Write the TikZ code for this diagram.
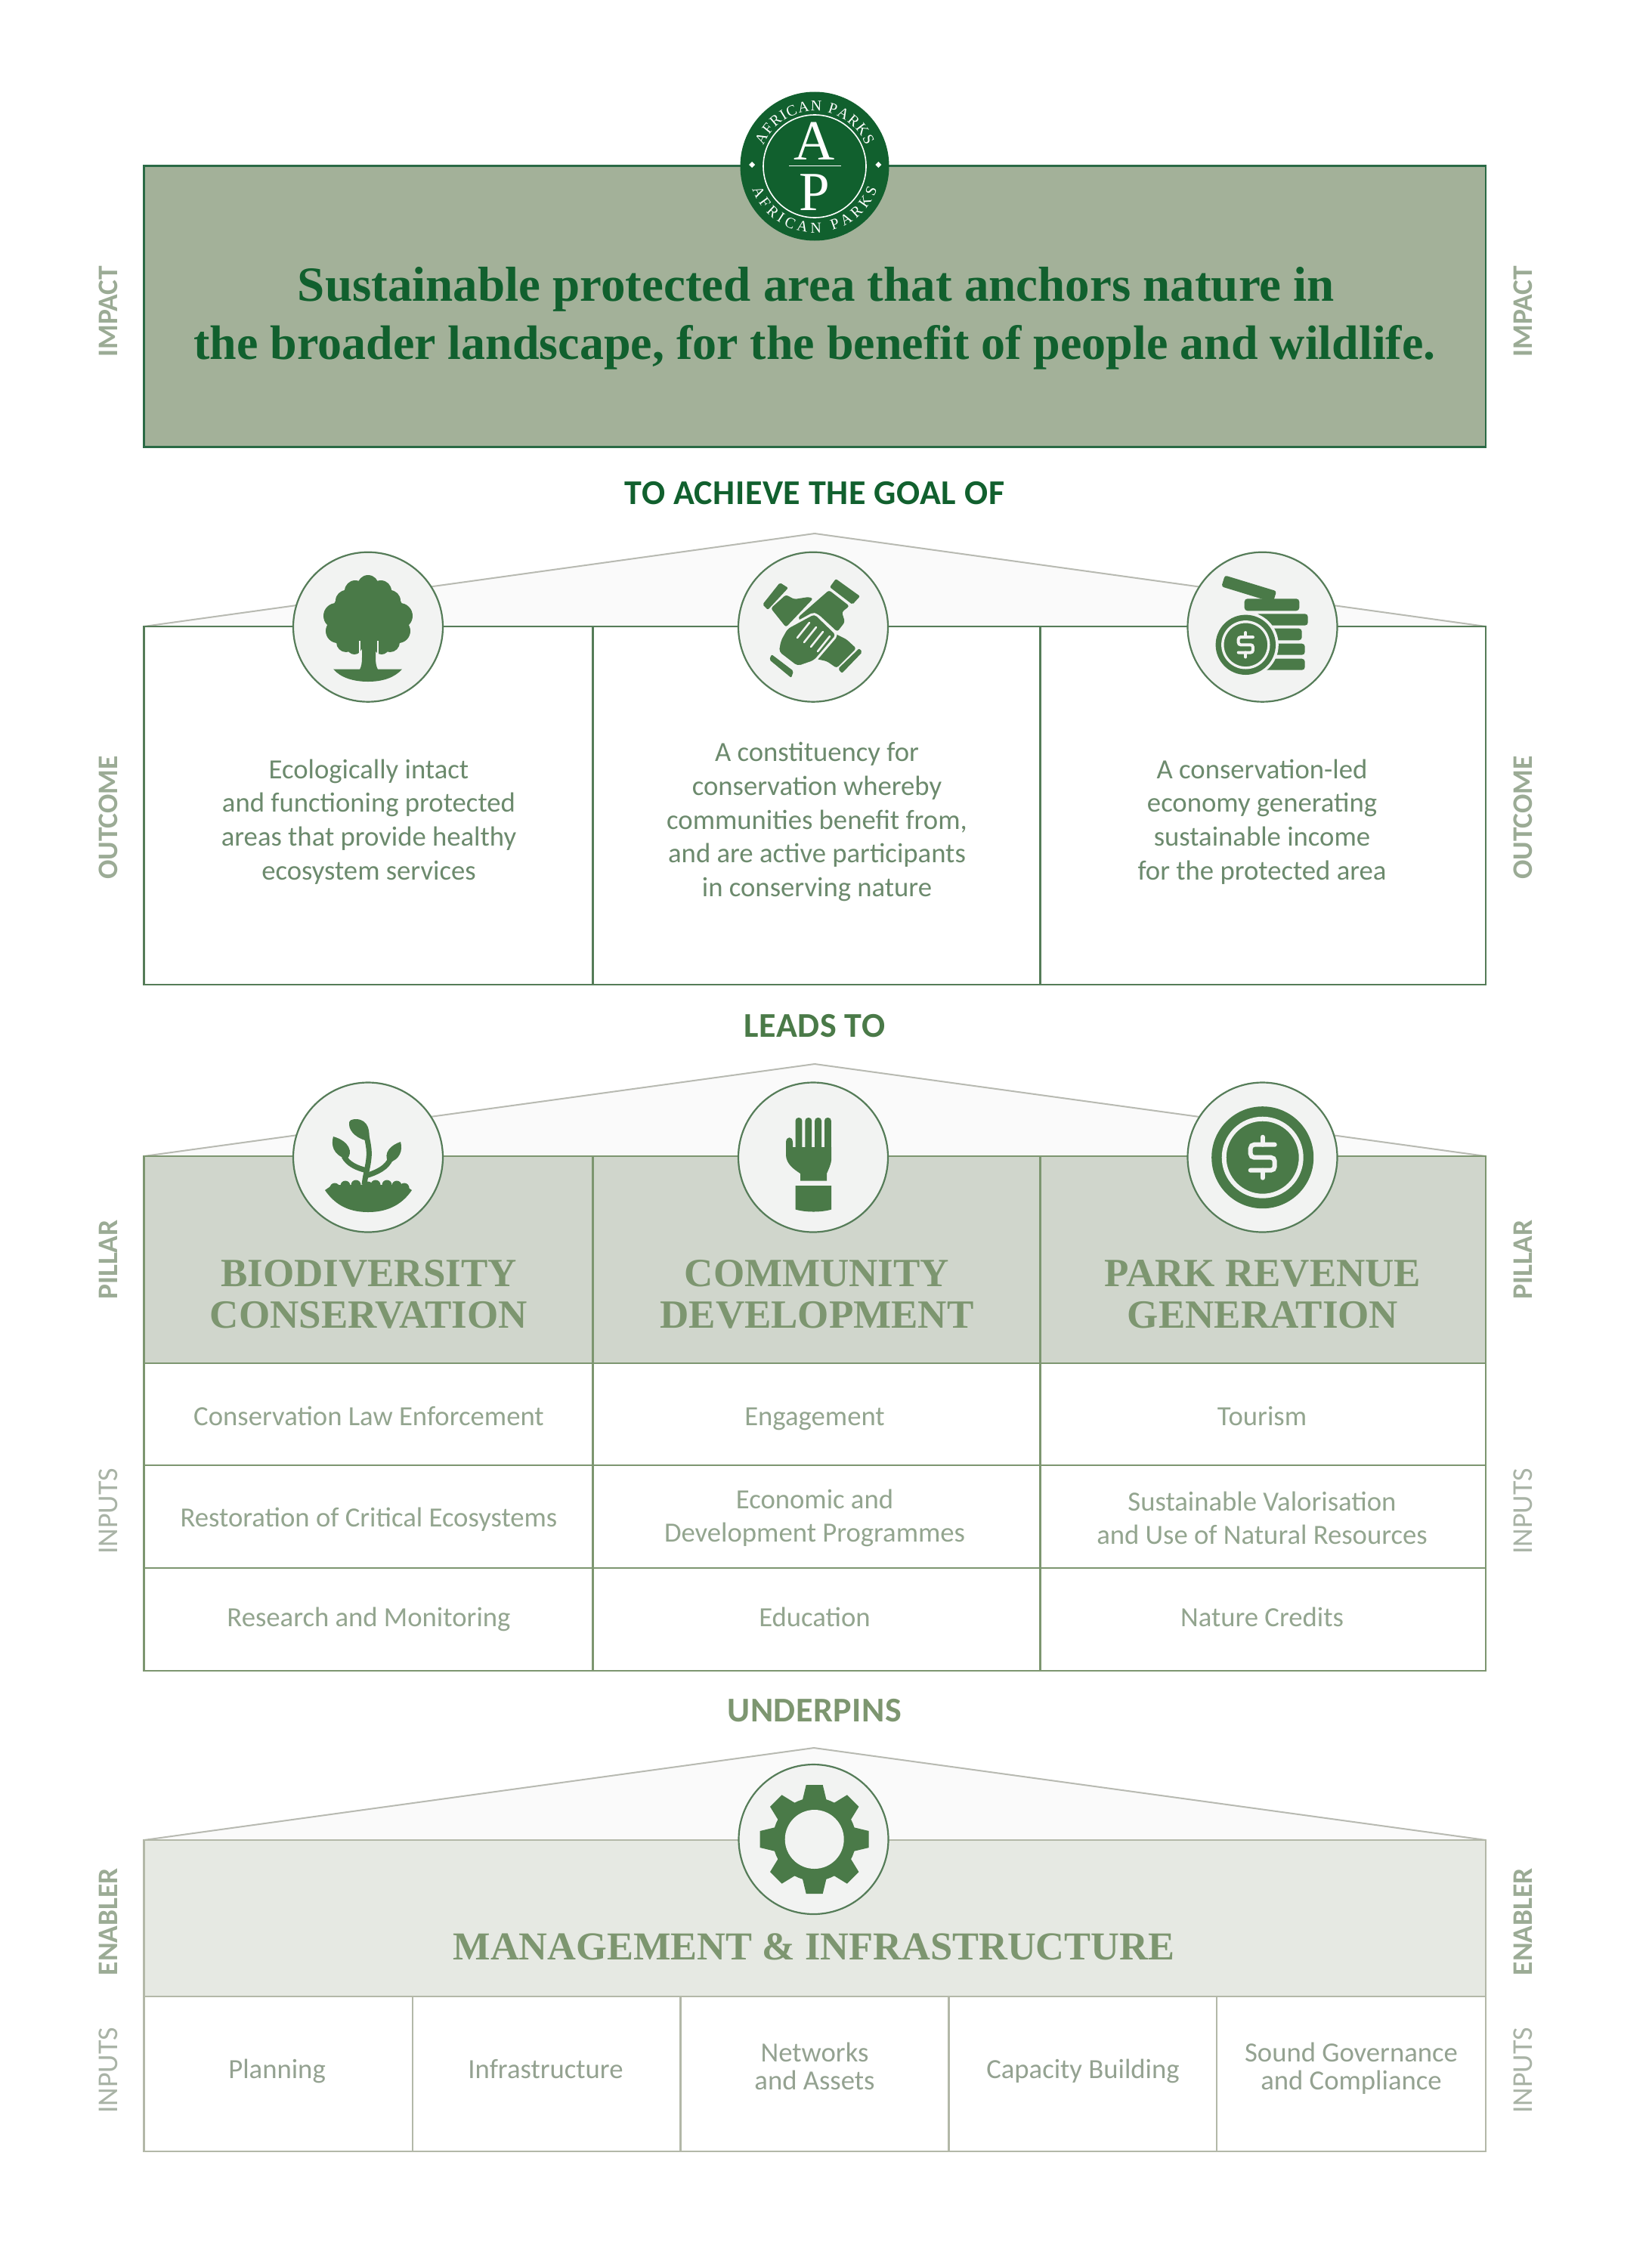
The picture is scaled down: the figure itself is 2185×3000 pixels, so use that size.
\documentclass[tikz,border=0pt]{standalone}
\usepackage{fontspec}
\usetikzlibrary{decorations.text}
\setmainfont{Carlito}
\newfontfamily\headserif{Liberation Serif Bold}
\newfontfamily\logoserif{Liberation Serif}
\newfontfamily\linkfont{Carlito Bold}[LetterSpace=1.2]
\definecolor{logogreen}{HTML}{11602E}
\definecolor{impactfill}{HTML}{A3B199}
\definecolor{impactline}{HTML}{2A6A45}
\definecolor{iconGreen}{HTML}{4A7A48}
\definecolor{outline}{HTML}{557C58}
\definecolor{outtext}{HTML}{6C8A6D}
\definecolor{sage}{HTML}{7D9670}
\definecolor{pillarfill}{HTML}{D0D6CC}
\definecolor{pillarline}{HTML}{7D9670}
\definecolor{inputtext}{HTML}{93A58F}
\definecolor{enablefill}{HTML}{E6E9E3}
\definecolor{enableline}{HTML}{B3B8A8}
\definecolor{enabletext}{HTML}{94A291}
\definecolor{rooffill}{HTML}{FAFAFA}
\definecolor{roofline}{HTML}{B8BAB2}
\definecolor{discfill}{HTML}{F2F3F2}
\definecolor{sidebold}{HTML}{9BAB95}
\definecolor{sidelight}{HTML}{A9B3A6}
\tikzset{
  roof/.style={fill=rooffill,draw=roofline,line width=2pt},
  disc/.style={fill=discfill,draw=outline,line width=2.2pt},
  outcell/.style={draw=outline,line width=2.6pt},
  pillarcell/.style={draw=pillarline,line width=2.6pt},
  enablecell/.style={draw=enableline,line width=2.6pt},
  sidehead/.style={rotate=90,inner sep=0pt,font=\fontsize{37.5}{40}\selectfont\bfseries,text=sidebold},
  sidesub/.style={rotate=90,inner sep=0pt,font=\fontsize{38}{40}\selectfont,text=sidelight},
  linkhead/.style={inner sep=0pt,anchor=base,font=\linkfont\fontsize{46}{48}\selectfont},
  bodytext/.style={inner sep=0pt,align=center,text=outtext,font=\fontsize{36.7}{44.7}\selectfont},
  celltext/.style={inner sep=0pt,align=center,text=inputtext,font=\fontsize{36.7}{44}\selectfont},
  basetext/.style={inner sep=0pt,anchor=base,text=enabletext,font=\fontsize{36.7}{37.5}\selectfont},
  pillartitle/.style={inner sep=0pt,align=center,text=sage,font=\headserif\fontsize{53}{55}\selectfont},
  logotext/.style={decorate,decoration={text along path,text align={fit to path},
    text={|\logoserif\fontsize{20}{20}\selectfont\color{white}|AFRICAN PARKS}}},
}
\newcommand{\dollarmark}[5]{%
  \begin{scope}[shift={(#1,#2)},scale=#3]
    \draw[draw=discfill,line width=#4pt,rounded corners=#5pt,line cap=round]
      (16,-17)--(-16,-17)--(-16,0)--(16,0)--(16,17)--(-16,17);
    \draw[draw=discfill,line width=#4pt,line cap=round] (0,-27)--(0,-17) (0,17)--(0,27);
  \end{scope}}
\begin{document}
\begin{tikzpicture}[x=1pt,y=-1pt]
\useasboundingbox (0,0) rectangle (2185,3000);
\fill[white] (0,0) rectangle (2185,3000);

% ---------- impact ----------
\draw[fill=impactfill,draw=impactline,line width=2.6pt] (190.5,219.5) rectangle (1966,591.5);
\node[inner sep=0pt,anchor=base,text=logogreen,font=\headserif\fontsize{65}{66}\selectfont] (title1) at (1080,398) {Sustainable protected area that anchors nature in};
\node[inner sep=0pt,anchor=base,text=logogreen,font=\headserif\fontsize{64}{66}\selectfont] (title2) at (1078,475) {the broader landscape, for the benefit of people and wildlife.};

% logo
\fill[logogreen] (1078,220) circle (98.5);
\draw[white,line width=1.6pt] (1078,220) circle (68);
\draw[white,line width=1.6pt] (1044,219.3) -- (1112.7,219.3);
\node[inner sep=0pt,anchor=base,text=white,font=\logoserif\fontsize{75}{75}\selectfont] (logoA) at (1078,211.5) {A};
\node[inner sep=0pt,anchor=base,text=white,font=\logoserif\fontsize{73}{73}\selectfont] (logoP) at (1078,278) {P};
\path[logotext] (1010.3,192.7) arc[start angle=-158,end angle=-22,radius=73];
\path[logotext] (995.3,250.1) arc[start angle=160,end angle=20,radius=88];
\fill[white] (995,214) -- (999,218) -- (995,222) -- (991,218) -- cycle;
\fill[white] (1162.3,214) -- (1166.3,218) -- (1162.3,222) -- (1158.3,218) -- cycle;

\node[linkhead,text=logogreen] (goal) at (1078,667) {TO ACHIEVE THE GOAL OF};

% ---------- outcome ----------
\draw[roof] (190.5,829) -- (1078,706) -- (1966,829) -- cycle;
\draw[outcell] (190.5,829) rectangle (1966,1303);
\draw[outcell] (784.5,829) -- (784.5,1303) (1376.5,829) -- (1376.5,1303);
\draw[disc] (487,829.7) circle (99);
\draw[disc] (1076,829.7) circle (99);
\draw[disc] (1670.5,829.7) circle (99);

% tree
\fill[iconGreen] (487,815) ellipse (48 and 45);
\foreach \cx/\cy/\r in {487/775/14,470/782/14,504/782/14,458/795/14,516/795/14,445/815/17,529/815/17,447/835/16,527/835/16,458/850/13,516/850/13,469/856/10,505/856/10}
  \fill[iconGreen] (\cx,\cy) circle (\r);
\draw[draw=discfill,line width=2.2pt] (476,848) -- (476,866) (500,848) -- (500,866);
\fill[discfill] (476.5,866) rectangle (499.5,880);
\fill[iconGreen] (479,845) -- (497,845) -- (497,870) .. controls (497,878) and (498,882) .. (500,886) -- (476,886) .. controls (478,882) and (479,878) .. (479,870) -- cycle;
\fill[iconGreen] (441,885.5) -- (532,885.5) .. controls (522,897) and (506,902) .. (487,902) .. controls (468,902) and (451,897) .. (441,885.5) -- cycle;

% hands: cuffs
\fill[iconGreen,rounded corners=2pt] (1032,771) -- (1043,778) -- (1016,807) -- (1009,800) -- cycle;
\fill[iconGreen,rounded corners=2pt] (1106,766) -- (1138,789) -- (1128,800) -- (1098,777) -- cycle;
\fill[iconGreen,rounded corners=2pt] (1021,866) -- (1050,888) -- (1047,897) -- (1018,873) -- cycle;
\fill[iconGreen,rounded corners=2pt] (1137,858) -- (1141,863) -- (1114,891) -- (1109,885) -- cycle;
% hands: arms behind
\fill[iconGreen,rounded corners=3pt] (1020,805) -- (1040,787) -- (1051,793) -- (1070,790) -- (1076,792) -- (1040,830) -- cycle;
\fill[iconGreen,rounded corners=3pt] (1104,838) -- (1120,846) -- (1133,858) -- (1107,884) -- (1094,875) -- (1080,872) -- cycle;
\fill[iconGreen,rounded corners=3pt] (1097,781) -- (1124,802) -- (1114,810) -- (1118,823) -- (1108,836) -- (1083,813) -- (1062,826) -- (1056,817) -- cycle;
% hands: front hand
\draw[draw=discfill,line width=3pt,fill=iconGreen,rounded corners=5pt] (1041,831) -- (1078,811) -- (1108,840) -- (1078,875) -- (1055,883) -- (1029,863) -- (1032,847) -- cycle;
\foreach \k in {0,1,2,3}
  \draw[draw=discfill,line width=2.6pt,line cap=round] ({1055+9*\k},{844+6*\k}) -- ({1071+9*\k},{824+6*\k});

% coins
\fill[iconGreen,rounded corners=3pt,rotate around={-17:(1652.7,779.3)}] (1617,771.5) rectangle (1688.4,787);
\fill[iconGreen,rounded corners=4pt] (1646.7,792.3) rectangle (1719.3,808.3);
\fill[iconGreen,rounded corners=4pt] (1661.7,812.3) rectangle (1730.7,827.7);
\fill[iconGreen,rounded corners=4pt] (1676,831.7) rectangle (1722.7,847.3);
\fill[iconGreen,rounded corners=4pt] (1676,851.7) rectangle (1726.7,866.7);
\fill[iconGreen,rounded corners=4pt] (1670,871.7) rectangle (1726.7,886.7);
\fill[discfill] (1648.3,853.3) circle (43.5);
\fill[iconGreen] (1648.3,853.3) circle (39.7);
\draw[discfill,line width=3.4pt] (1648.3,853.3) circle (30.5);
\dollarmark{1648.3}{853.3}{0.6}{4}{3}

\node[bodytext] (o1) at (488,1087.5) {Ecologically intact\\and functioning protected\\areas that provide healthy\\ecosystem services};
\node[bodytext] (o2) at (1081,1087.5) {A constituency for\\conservation whereby\\communities benefit from,\\and are active participants\\in conserving nature};
\node[bodytext] (o3) at (1670,1087.5) {A conservation-led\\economy generating\\sustainable income\\for the protected area};

\node[linkhead,text=iconGreen] (leads) at (1078,1372) {LEADS TO};

% ---------- pillars ----------
\draw[roof] (190.5,1530) -- (1078,1408) -- (1966,1530) -- cycle;
\draw[pillarcell,fill=pillarfill] (190.5,1530) rectangle (1966,1804);
\draw[pillarcell] (190.5,1804) rectangle (1966,2211);
\draw[pillarcell] (190.5,1939) -- (1966,1939) (190.5,2075) -- (1966,2075);
\draw[pillarcell] (784.5,1530) -- (784.5,2211) (1376.5,1530) -- (1376.5,2211);
\draw[disc] (487,1531.5) circle (99);
\draw[disc] (1076,1531.5) circle (99);
\draw[disc] (1670.5,1531.5) circle (99);

% sprout
\draw[iconGreen,line width=7pt] (482,1568) .. controls (484,1550) and (490,1535) .. (488,1520) .. controls (487,1512) and (486,1508) .. (485,1503);
\draw[iconGreen,line width=7pt] (486,1549) .. controls (472,1546) and (460,1540) .. (455,1530);
\draw[iconGreen,line width=7pt] (484,1556) .. controls (500,1551) and (512,1545) .. (517,1533);
\fill[iconGreen] (488,1510) .. controls (490,1498) and (488,1482) .. (472,1481) .. controls (466,1481) and (461,1482) .. (462,1488) .. controls (462,1498) and (474,1508) .. (488,1510) -- cycle;
\fill[iconGreen] (459,1534) .. controls (468,1525) and (462,1510) .. (441,1504) .. controls (438,1515) and (440,1528) .. (459,1534) -- cycle;
\fill[iconGreen] (514,1539) .. controls (530,1534) and (533,1522) .. (530,1511) .. controls (518,1515) and (506,1525) .. (514,1539) -- cycle;
\fill[iconGreen] (430,1575) .. controls (445,1597) and (465,1604) .. (487,1604) .. controls (509,1604) and (530,1597) .. (545,1575) -- (535,1568) -- (440,1568) -- cycle;
\foreach \cx/\cy in {443/1572,457/1569,471/1568,487/1570,497/1568,512/1568,525/1569,535/1572}
  \fill[iconGreen] (\cx,\cy) circle (6.5);

% raised hand
\foreach \fx in {1057,1069.8,1082.6,1095.4}
  \fill[iconGreen,rounded corners=4pt] ({\fx-4.4},1479) rectangle ({\fx+4.4},1525);
\fill[iconGreen] (1052.6,1518) -- (1100.2,1518) -- (1100.2,1533) .. controls (1100,1541) and (1096,1548) .. (1094,1553) -- (1094,1562.7) -- (1059,1562.7) -- (1059,1553) .. controls (1050,1547) and (1040,1540) .. (1040,1528) -- (1040,1512) .. controls (1040,1503) and (1049,1503) .. (1049,1512) -- (1049,1518) -- cycle;
\fill[iconGreen] (1052.6,1569) -- (1100.2,1569) -- (1100.2,1600.5) .. controls (1087,1604.5) and (1066,1604.5) .. (1052.6,1600.5) -- cycle;

% big coin
\fill[iconGreen] (1670.7,1531.7) circle (67.5);
\draw[discfill,line width=6pt] (1670.7,1531.7) circle (51);
\dollarmark{1670.7}{1531.7}{1}{6}{5}

\node[pillartitle,anchor=base] (p1a) at (488,1702) {BIODIVERSITY};
\node[pillartitle,anchor=base] (p1b) at (488,1757) {CONSERVATION};
\node[pillartitle,anchor=base] (p2a) at (1081,1702) {COMMUNITY};
\node[pillartitle,anchor=base] (p2b) at (1081,1757) {DEVELOPMENT};
\node[pillartitle,anchor=base] (p3a) at (1671,1702) {PARK REVENUE};
\node[pillartitle,anchor=base] (p3b) at (1671,1757) {GENERATION};

\node[celltext,anchor=base] (i11) at (488,1886) {Conservation Law Enforcement};
\node[celltext,anchor=base] (i21) at (488,2020) {Restoration of Critical Ecosystems};
\node[celltext,anchor=base] (i31) at (488,2152) {Research and Monitoring};
\node[celltext,anchor=base] (i12) at (1078,1886) {Engagement};
\node[celltext,anchor=base] (i22a) at (1078,1996) {Economic and};
\node[celltext,anchor=base] (i22b) at (1078,2040) {Development Programmes};
\node[celltext,anchor=base] (i32) at (1078,2152) {Education};
\node[celltext,anchor=base] (i13) at (1670,1886) {Tourism};
\node[celltext,anchor=base] (i23a) at (1670,1999) {Sustainable Valorisation};
\node[celltext,anchor=base] (i23b) at (1670,2043) {and Use of Natural Resources};
\node[celltext,anchor=base] (i33) at (1670,2152) {Nature Credits};

\node[linkhead,text=sage] (under) at (1078,2278) {UNDERPINS};

% ---------- enabler ----------
\draw[roof] (190.5,2435) -- (1077,2313) -- (1966,2435) -- cycle;
\draw[enablecell,fill=enablefill] (190.5,2435) rectangle (1966,2642);
\draw[enablecell] (190.5,2642) rectangle (1966,2847);
\draw[enablecell] (546,2642) -- (546,2847) (900.5,2642) -- (900.5,2847) (1255.5,2642) -- (1255.5,2847) (1610,2642) -- (1610,2847);
\draw[disc] (1076.5,2434) circle (99);

% gear
\foreach \a in {0,45,...,315}
  \fill[iconGreen,rotate around={\a:(1077.7,2434)}] (1066.7,2362) -- (1088.7,2362) -- (1094,2384) -- (1061.4,2384) -- cycle;
\fill[iconGreen] (1077.7,2434) circle (55);
\fill[discfill] (1077.7,2434) circle (39);

\node[pillartitle,anchor=base,font=\headserif\fontsize{52.4}{55}\selectfont] (mgmt) at (1077,2593) {MANAGEMENT \& INFRASTRUCTURE};

\node[basetext] (b1) at (366.6,2750) {Planning};
\node[basetext] (b2) at (722,2750) {Infrastructure};
\node[basetext] (b3a) at (1078,2728) {Networks};
\node[basetext] (b3b) at (1078,2765) {and Assets};
\node[basetext] (b4) at (1433,2750) {Capacity Building};
\node[basetext] (b5a) at (1788,2728) {Sound Governance};
\node[basetext] (b5b) at (1788,2765) {and Compliance};

% ---------- side labels ----------
\node[sidehead] (sl1) at (143,412) {IMPACT};
\node[sidehead] (sl2) at (143,1082) {OUTCOME};
\node[sidehead] (sl3) at (143,1667) {PILLAR};
\node[sidesub] (sl4) at (143,2000) {INPUTS};
\node[sidehead] (sl5) at (143,2543) {ENABLER};
\node[sidesub] (sl6) at (143,2740) {INPUTS};
\node[sidehead] (sr1) at (2015,412) {IMPACT};
\node[sidehead] (sr2) at (2015,1082) {OUTCOME};
\node[sidehead] (sr3) at (2015,1667) {PILLAR};
\node[sidesub] (sr4) at (2015,2000) {INPUTS};
\node[sidehead] (sr5) at (2015,2543) {ENABLER};
\node[sidesub] (sr6) at (2015,2740) {INPUTS};
\end{tikzpicture}
\end{document}
